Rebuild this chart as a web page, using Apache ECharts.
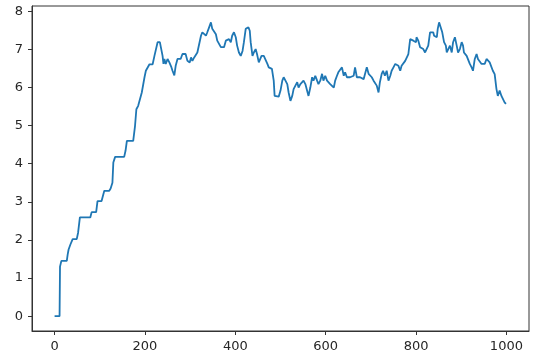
<!DOCTYPE html>
<html>
<head>
<meta charset="utf-8">
<script src="https://cdn.jsdelivr.net/npm/echarts@6/dist/echarts.min.js"></script>
<style>html,body{margin:0;padding:0;background:#fff}#c{width:536px;height:364px}</style>
</head>
<body>
<div id="c"></div>
<script>
var xs = [0,11,12,15,27,29,31,35,40,49,52,56,79,82,92,95,104,110,121,124,128,130,134,154,157,160,174,178,181,185,193,199,202,210,217,221,228,233,239,241,243,246,250,254,258,261,265,268,272,279,283,290,294,299,302,305,309,312,316,324,327,331,335,338,342,346,349,353,357,360,364,368,375,379,382,386,390,393,397,401,404,408,412,416,419,423,429,432,434,438,441,445,448,452,458,463,467,471,474,481,485,487,496,500,504,507,511,515,518,522,526,529,533,537,540,544,548,551,555,558,562,566,570,573,577,581,584,588,592,595,599,603,606,610,614,618,621,625,628,632,636,640,643,647,651,654,658,662,665,669,676,680,684,687,691,695,698,702,706,710,713,717,720,724,727,731,735,739,743,746,750,754,757,761,765,768,772,776,779,783,787,790,794,798,800,801,805,809,816,820,824,827,831,838,840,846,848,851,855,858,862,866,868,871,875,879,882,886,890,893,897,901,904,906,912,916,919,923,926,930,934,937,941,945,952,956,960,963,967,970,974,978,981,985,989,992,996,999];
var ys = [0,0,1.30,1.45,1.45,1.62,1.75,1.88,2.02,2.02,2.19,2.59,2.59,2.73,2.73,3.02,3.02,3.29,3.29,3.35,3.50,4.03,4.18,4.18,4.34,4.60,4.60,4.99,5.43,5.52,5.87,6.27,6.44,6.61,6.61,6.83,7.19,7.19,6.83,6.62,6.75,6.62,6.75,6.66,6.55,6.44,6.32,6.57,6.75,6.75,6.88,6.88,6.70,6.66,6.79,6.70,6.79,6.75,6.92,7.36,7.45,7.40,7.36,7.45,7.58,7.71,7.54,7.58,7.40,7.23,7.19,7.06,7.06,7.23,7.23,7.27,7.19,7.36,7.45,7.32,7.10,6.92,6.83,6.96,7.19,7.54,7.58,7.49,7.19,6.83,6.92,7.01,6.88,6.66,6.83,6.83,6.79,6.62,6.53,6.49,6.18,5.78,5.76,5.92,6.18,6.27,6.18,6.09,5.87,5.65,5.78,5.96,5.96,6.14,6.00,6.09,6.05,6.18,6.09,6.05,5.78,6.00,6.27,6.18,6.31,6.18,6.09,6.18,6.36,6.18,6.31,6.18,6.22,6.09,6.14,6.00,6.18,6.31,6.40,6.36,6.53,6.31,6.40,6.27,6.31,6.27,6.27,6.31,6.53,6.27,6.27,6.22,6.22,6.27,6.53,6.36,6.31,6.27,6.18,6.22,6.05,5.87,6.14,6.36,6.44,6.31,6.44,6.18,6.31,6.44,6.53,6.62,6.66,6.57,6.44,6.57,6.62,6.70,6.75,6.88,7.27,7.32,7.23,7.27,7.19,7.32,7.23,7.06,7.01,6.92,6.92,7.10,7.45,7.45,7.36,7.32,7.54,7.71,7.71,7.45,7.19,7.10,6.92,6.92,7.10,6.92,7.19,7.32,7.10,6.92,7.01,7.19,7.10,6.92,6.83,6.83,6.62,6.53,6.44,6.75,6.88,6.75,6.75,6.62,6.62,6.75,6.75,6.66,6.62,6.44,6.35,5.96,5.78,5.92,5.78,5.74,5.61,5.57];
var xTicks = [0,200,400,600,800,1000];
var yTicks = [0,1,2,3,4,5,6,7,8];

var data = xs.map(function(x,i){return [x, ys[i]];});
var chart = echarts.init(document.getElementById('c'), null, {renderer:'canvas'});
var axisCol = '#333';
var font = {fontFamily:'DejaVu Sans', fontSize:13, color:'#262626', formatter:function(v){return String(v);}};
chart.setOption({
  animation:false,
  grid:{left:32, right:7, top:6, bottom:33, show:true, borderColor:axisCol, borderWidth:1, backgroundColor:'#fff'},
  xAxis:{type:'value', min:-50, max:1050,
    axisLine:{show:true, onZero:false, lineStyle:{color:axisCol, width:1}},
    axisTick:{show:true, length:4, inside:false, customValues:xTicks, lineStyle:{color:axisCol}},
    axisLabel:Object.assign({margin:9, customValues:xTicks}, font),
    splitLine:{show:false}},
  yAxis:{type:'value', min:-0.39, max:8.14,
    axisLine:{show:true, onZero:false, lineStyle:{color:axisCol, width:1}},
    axisTick:{show:true, length:4, inside:false, customValues:yTicks, lineStyle:{color:axisCol}},
    axisLabel:Object.assign({margin:9, customValues:yTicks}, font),
    splitLine:{show:false}},
  series:[{type:'line', data:data, showSymbol:false, symbol:'none',
    lineStyle:{color:'#1f77b4', width:1.8}, clip:true}]
});
</script>
</body>
</html>
